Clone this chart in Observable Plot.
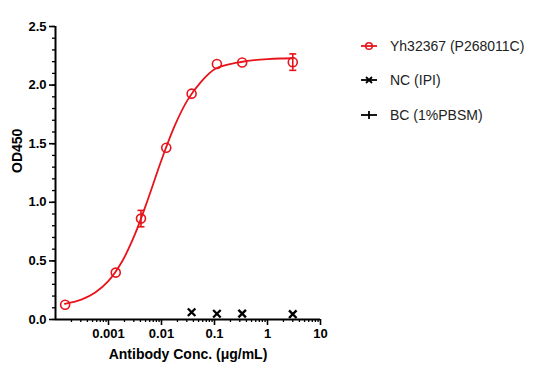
<!DOCTYPE html>
<html><head><meta charset="utf-8">
<script src="https://cdn.jsdelivr.net/npm/d3@7"></script>
<script src="https://cdn.jsdelivr.net/npm/@observablehq/plot@0.6"></script>
<style>
body{margin:0;background:#fff;font-family:Arial,"Liberation Sans",sans-serif;}
#wrap{position:relative;width:535px;height:375px;overflow:hidden;}
#chart{position:absolute;left:0;top:0;}
.row{position:absolute;left:360px;height:20px;display:flex;align-items:center;white-space:nowrap;font-size:14px;color:#222;}
.row svg{margin-right:12px;}
</style></head><body>
<div id="wrap"><div id="chart"></div><div id="legend"></div></div>
<script>
// Sample series (Yh32367)
const conc = [0.000152, 0.00137, 0.0041, 0.0123, 0.037, 0.111, 0.333, 3];
const sampleOD = [0.126, 0.40, 0.861, 1.465, 1.927, 2.18, 2.193, 2.196];
const sampleSD = [0, 0, 0.07, 0, 0, 0, 0, 0.07];
// Negative control
const ncConc = [0.037, 0.111, 0.333, 3];
const ncOD = [0.062, 0.049, 0.05, 0.045];
// Fitted curve
const fitConc = [0.00015, 0.000316, 0.000562, 0.001, 0.00178, 0.00316, 0.00562, 0.01, 0.0178, 0.0316, 0.0562, 0.1, 0.178, 0.316, 0.562, 1, 1.78, 3];
const fitOD = [0.133, 0.172, 0.230, 0.329, 0.490, 0.728, 1.033, 1.361, 1.655, 1.878, 2.03, 2.135, 2.175, 2.197, 2.213, 2.222, 2.227, 2.229];
// Axes
const xTicks = [0.001, 0.01, 0.1, 1, 10];
const yTicks = [0, 0.5, 1.0, 1.5, 2.0, 2.5];
const legendNames = ["Yh32367 (P268011C)", "NC (IPI)", "BC (1%PBSM)"];

const RED = "#e8141b";
const sample = conc.map((c, i) => ({c, od: sampleOD[i], sd: sampleSD[i]}));
const nc = ncConc.map((c, i) => ({c, od: ncOD[i]}));
const fit = fitConc.map((c, i) => ({c, od: fitOD[i]}));
const errs = sample.filter(d => d.sd > 0);

const minorX = [];
for (let e = -4; e < 1; e++) for (let m = 2; m <= 9; m++) minorX.push(m * 10 ** e);
const minorY = d3.range(0, 26).map(i => i / 10);

const capSymbol = {draw(ctx, size) { const r = Math.sqrt(size / Math.PI); ctx.moveTo(-r, 0); ctx.lineTo(r, 0); }};

const plot = Plot.plot({
  width: 340, height: 375,
  marginLeft: 55, marginRight: 20, marginTop: 26, marginBottom: 56,
  style: {fontFamily: "Arial, 'Liberation Sans', sans-serif", fontSize: "13px", fontWeight: "bold", color: "#000", background: "transparent", overflow: "visible"},
  x: {type: "log", domain: [1e-4, 10]},
  y: {domain: [0, 2.5]},
  marks: [
    Plot.axisX({ticks: minorX, tickSize: 3, strokeWidth: 1.3, tickFormat: () => "", label: null}),
    Plot.axisX({ticks: xTicks, tickSize: 6, strokeWidth: 1.6, tickPadding: 3, tickFormat: d => String(d), fontWeight: "bold", fontSize: 13, label: null}),
    Plot.axisY({ticks: minorY, tickSize: 3, strokeWidth: 1.3, tickFormat: () => "", label: null}),
    Plot.axisY({ticks: yTicks, tickSize: 6, strokeWidth: 1.6, tickPadding: 3, tickFormat: d3.format(".1f"), fontWeight: "bold", fontSize: 13, label: null}),
    Plot.ruleY([0], {stroke: "#000", strokeWidth: 2}),
    Plot.ruleX([1e-4], {stroke: "#000", strokeWidth: 2}),
    Plot.line(fit, {x: "c", y: "od", stroke: RED, strokeWidth: 1.8, curve: "catmull-rom"}),
    Plot.ruleX(errs, {x: "c", y1: d => d.od - d.sd, y2: d => d.od + d.sd, stroke: RED, strokeWidth: 1.6}),
    Plot.dot(errs, {x: "c", y: d => d.od + d.sd, symbol: capSymbol, r: 3.5, stroke: RED, strokeWidth: 1.6}),
    Plot.dot(errs, {x: "c", y: d => d.od - d.sd, symbol: capSymbol, r: 3.5, stroke: RED, strokeWidth: 1.6}),
    Plot.dot(sample, {x: "c", y: "od", r: 4.5, stroke: RED, strokeWidth: 1.6, fill: "none"}),
    Plot.dot(nc, {x: "c", y: "od", symbol: "times", r: 3.5, stroke: "#000", strokeWidth: 2.4}),
    Plot.text(["Antibody Conc. (μg/mL)"], {frameAnchor: "bottom", dy: 39, text: d => d, fontSize: 14, fontWeight: "bold", fill: "#000"}),
    Plot.text(["OD450"], {frameAnchor: "left", dx: -38, rotate: -90, text: d => d, fontSize: 14, fontWeight: "bold", fill: "#000"})
  ]
});
document.getElementById("chart").append(plot);

// Legend
const legend = document.getElementById("legend");
const rowsY = [46, 80, 115];
const swatches = [
  `<svg width="18" height="12"><line x1="1" y1="6" x2="17" y2="6" stroke="${RED}" stroke-width="1.8"/><circle cx="9" cy="6" r="3.3" fill="none" stroke="${RED}" stroke-width="1.5"/></svg>`,
  `<svg width="18" height="12"><line x1="1" y1="6" x2="17" y2="6" stroke="#000" stroke-width="1.8"/><path d="M6,3L12,9M12,3L6,9" stroke="#000" stroke-width="1.8"/></svg>`,
  `<svg width="18" height="12"><line x1="1" y1="6" x2="17" y2="6" stroke="#000" stroke-width="1.8"/><line x1="9" y1="2" x2="9" y2="10" stroke="#000" stroke-width="1.8"/></svg>`
];
legendNames.forEach((name, i) => {
  const row = document.createElement("div");
  row.className = "row";
  row.style.top = (rowsY[i] - 10) + "px";
  row.innerHTML = swatches[i] + `<span>${name}</span>`;
  legend.append(row);
});
</script>
</body></html>
